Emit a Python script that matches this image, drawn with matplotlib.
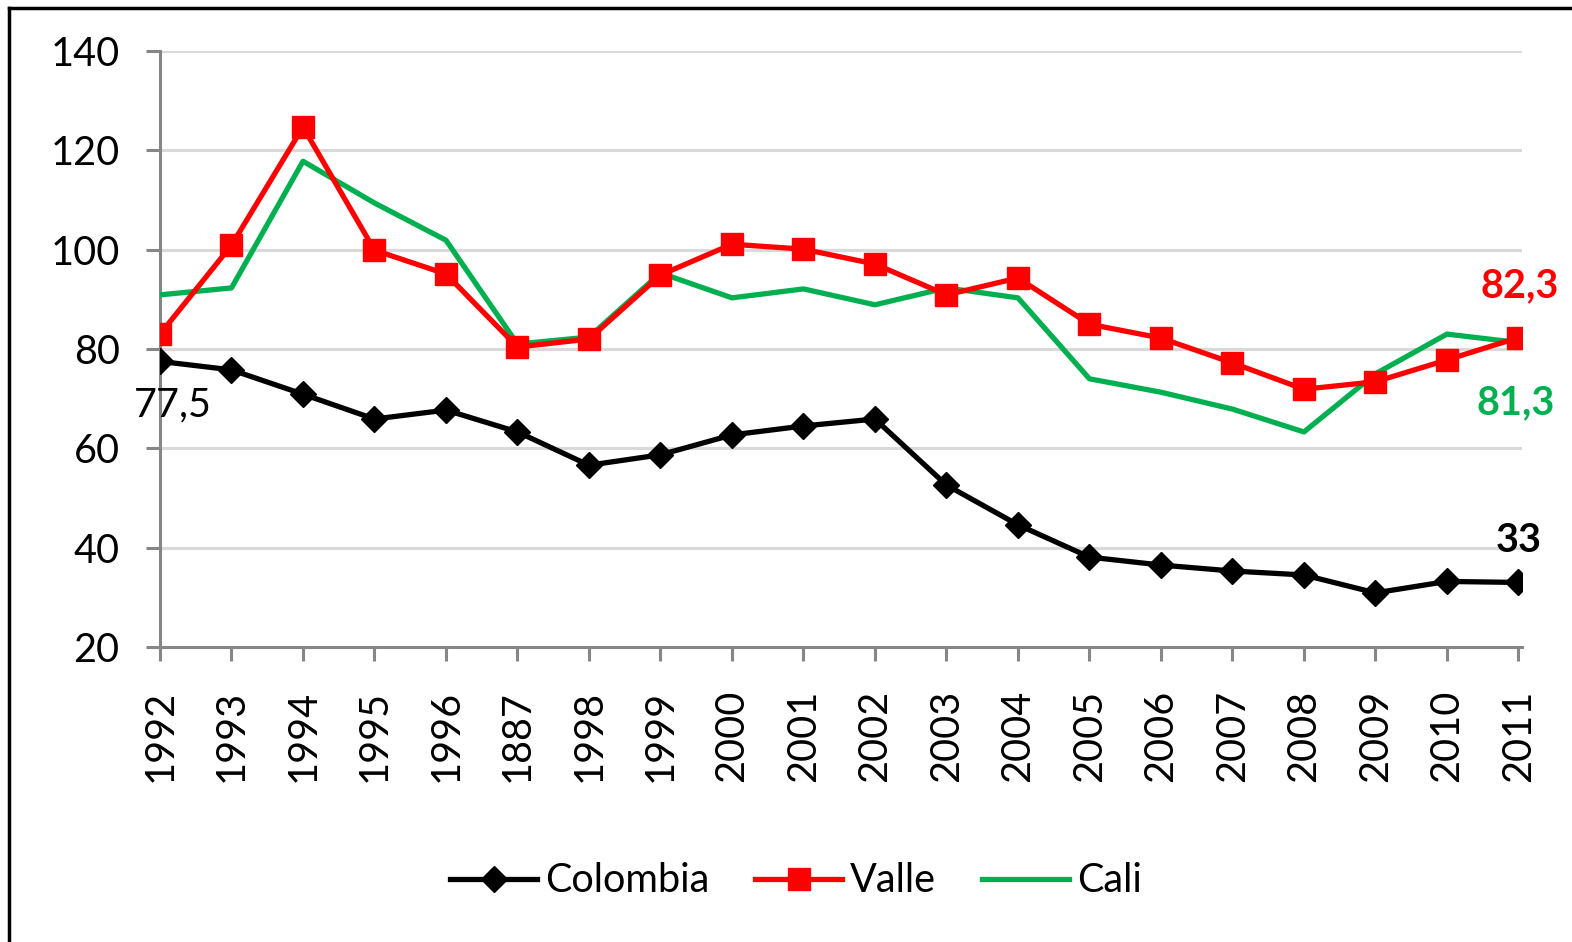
import matplotlib
matplotlib.use("Agg")
import matplotlib.pyplot as plt
from matplotlib.lines import Line2D

plt.rcParams['font.family'] = ['Lato', 'DejaVu Sans']

years = ["1992", "1993", "1994", "1995", "1996", "1887", "1998", "1999", "2000", "2001",
         "2002", "2003", "2004", "2005", "2006", "2007", "2008", "2009", "2010", "2011"]
colombia = [77.5, 75.8, 70.9, 65.9, 67.7, 63.3, 56.6, 58.7, 62.7, 64.5,
            65.9, 52.6, 44.6, 38.1, 36.5, 35.3, 34.5, 30.9, 33.2, 33.0]
valle = [83.0, 100.9, 124.7, 99.9, 95.1, 80.4, 82.0, 94.9, 101.1, 100.1,
         97.1, 90.9, 94.3, 85.0, 82.2, 77.2, 71.9, 73.4, 77.8, 82.3]
cali = [90.9, 92.3, 117.8, 109.4, 101.9, 81.0, 82.4, 95.3, 90.3, 92.1,
        88.9, 92.3, 90.3, 74.0, 71.3, 67.9, 63.3, 75.0, 83.0, 81.3]
yticks = [20, 40, 60, 80, 100, 120, 140]

RED = "#FF0000"
GREEN = "#00B050"
GRAY = "#868686"
FS = 28.5

fig = plt.figure(figsize=(15.72, 9.42), dpi=100)
ax = fig.add_axes([160/1572, 1 - 647/942, 1362/1572, 596/942])

x = list(range(len(years)))
ax.plot(x, cali, color=GREEN, lw=3.8, zorder=3, solid_joinstyle='round')
ax.plot(x, valle, color=RED, lw=3.8, marker='s', ms=16, zorder=4)
ax.plot(x, colombia, color='black', lw=3.8, marker='D', ms=13, zorder=5)

ax.set_xlim(0, 19.05)
ax.set_ylim(20, 140)
ax.set_yticks(yticks)
ax.set_xticks(x)
ax.set_xticklabels(years, rotation=90, fontsize=FS)
ax.tick_params(axis='y', labelsize=FS, length=10, width=2.2, color=GRAY, pad=19)
ax.tick_params(axis='x', length=10, width=2.2, color=GRAY, pad=21)
ax.grid(axis='y', color='#D9D9D9', lw=2.2, zorder=0)
ax.set_axisbelow(True)
for s in ['top', 'right']:
    ax.spines[s].set_visible(False)
for s in ['left', 'bottom']:
    ax.spines[s].set_color(GRAY)
    ax.spines[s].set_linewidth(2.2)

# annotations
ax.annotate("77,5", (0, colombia[0]), xytext=(13, -44), textcoords='offset pixels',
            ha='center', va='center', fontsize=FS)
ax.annotate("82,3", (19, valle[-1]), xytext=(1, 52), textcoords='offset pixels',
            ha='center', va='center', fontsize=FS, fontweight='bold', color=RED)
ax.annotate("81,3", (19, cali[-1]), xytext=(-3, -60), textcoords='offset pixels',
            ha='center', va='center', fontsize=FS, fontweight='bold', color=GREEN)
ax.annotate("33", (19, colombia[-1]), xytext=(0, 42), textcoords='offset pixels',
            ha='center', va='center', fontsize=FS, fontweight='bold', color='black')

handles = [Line2D([], [], color='black', lw=3.8, marker='D', ms=13),
           Line2D([], [], color=RED, lw=3.8, marker='s', ms=16),
           Line2D([], [], color=GREEN, lw=3.8)]
fig.legend(handles, ["Colombia", "Valle", "Cali"], loc='center',
           bbox_to_anchor=(796/1572, 1 - 881/942), ncol=3, frameon=False,
           fontsize=FS, handlelength=2.2, handletextpad=0.2, columnspacing=1.15)

# outer frame (top and left visible)
fig.add_artist(Line2D([9/1572, 1.0], [1 - 8/942, 1 - 8/942], color='black', lw=2.5,
                      transform=fig.transFigure))
fig.add_artist(Line2D([9/1572, 9/1572], [0, 1 - 8/942], color='black', lw=2.5,
                      transform=fig.transFigure))

fig.savefig("out.png", dpi=100)
